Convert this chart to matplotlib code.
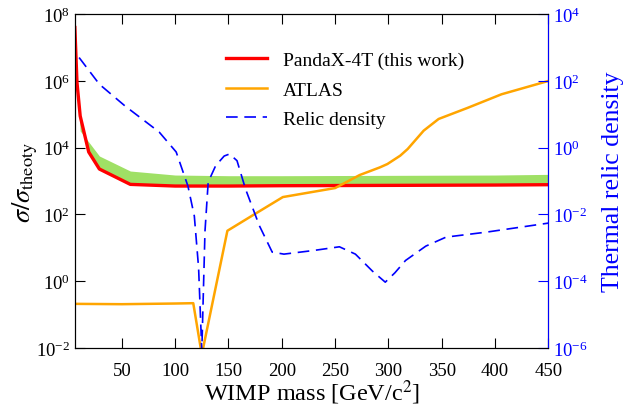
import numpy as np
import matplotlib
matplotlib.use("Agg")
import matplotlib.pyplot as plt
from matplotlib.ticker import LogLocator, NullLocator

plt.rcParams['font.family'] = ['Liberation Serif', 'DejaVu Serif']
plt.rcParams['mathtext.fontset'] = 'stix'

# PandaX-4T limit (red) and its band upper edge (green)
px_mass = [6, 8, 11, 19, 29, 58, 100, 150, 200, 300, 400, 450]
px_lim = [10**7.6, 10**5.95, 10**4.95, 10**3.87, 10**3.36, 10**2.9, 10**2.85,
          10**2.85, 10**2.86, 10**2.87, 10**2.88, 10**2.89]
band_up = [10**7.6, 10**6.1, 10**4.5, 10**4.17, 10**3.75, 10**3.3, 10**3.18,
           10**3.16, 10**3.16, 10**3.17, 10**3.18, 10**3.2]

# ATLAS (orange)
atlas_mass = [6, 50, 100, 117, 125, 149, 170, 201, 250, 273, 292,
              299, 311, 318, 333, 347, 374, 406, 450]
atlas = [10**-0.68, 10**-0.69, 10**-0.67, 10**-0.66, 10**-2.2,
         10**1.51, 10**1.92, 10**2.52, 10**2.79, 10**3.18, 10**3.41,
         10**3.51, 10**3.76, 10**3.96, 10**4.51, 10**4.86, 10**5.19, 10**5.6,
         10**6.0]

# relic density (blue, right axis)
relic_mass = [10, 29, 53, 85, 101, 112, 118, 122, 125, 128, 131, 138, 146,
              151, 158, 166, 179, 191, 202, 230, 254, 269, 285, 297, 306,
              316, 335, 354, 392, 450]
relic = [10**2.7, 10**1.9, 10**1.25, 10**0.47, 10**-0.13, 10**-1.15,
         10**-2.05, 10**-3.6, 10**-6.1, 10**-2.5, 10**-1.03, 10**-0.54,
         10**-0.25, 10**-0.19, 10**-0.39, 10**-1.24, 10**-2.34, 10**-3.13,
         10**-3.19, 10**-3.08, 10**-2.97, 10**-3.19, 10**-3.7, 10**-4.03,
         10**-3.75, 10**-3.38, 10**-2.95, 10**-2.68, 10**-2.53, 10**-2.26]

fig = plt.figure(figsize=(6.29, 4.10), dpi=100)
ax = fig.add_axes([0.119, 0.149, 0.753, 0.814])

ax.fill_between(px_mass, px_lim, band_up, color='#9fe065', lw=0)
ax.plot(px_mass, px_lim, color='#ff0000', lw=2.4, label='PandaX-4T (this work)')
ax.plot(atlas_mass, atlas, color='#ffa500', lw=1.8, label='ATLAS')
ax.plot([], [], color='#0000ff', lw=1.2, ls=(0, (7, 4)), label='Relic density')

ax.set_yscale('log')
ax.set_xlim(6, 450)
ax.set_ylim(1e-2, 1e8)
ax.set_xticks([50, 100, 150, 200, 250, 300, 350, 400, 450])
ax.yaxis.set_major_locator(LogLocator(base=100))
ax.yaxis.set_minor_locator(NullLocator())
ax.tick_params(direction='in', length=7, labelsize=13.5, top=True)
ax.tick_params(axis='x', pad=10)
ax.set_xlabel('WIMP mass [GeV/c$^2$]', fontsize=17.5, labelpad=-1)
ax.set_ylabel(r'$\sigma/\sigma_{\rm theoty}$', fontsize=19)
ax.yaxis.set_label_coords(-0.074, 0.5)
ax.xaxis.offsetText.set_visible(False)

ax2 = ax.twinx()
ax2.plot(relic_mass, relic, color='#0000ff', lw=1.2, ls=(0, (7, 4)))
ax2.set_yscale('log')
ax2.set_ylim(1e-6, 1e4)
ax2.yaxis.set_major_locator(LogLocator(base=100))
ax2.yaxis.set_minor_locator(NullLocator())
ax2.tick_params(direction='in', length=7, labelsize=13.5, colors='#0000ff')
ax2.spines['right'].set_color('#0000ff')
ax2.set_ylabel('Thermal relic density', fontsize=18.5, color='#0000ff')
ax2.yaxis.set_label_coords(1.112, 0.5)
ax2.xaxis.offsetText.set_visible(False)
ax2.xaxis.label.set_visible(False)

ax.legend(loc='upper left', bbox_to_anchor=(0.283, 0.94), frameon=False,
          fontsize=14, handlelength=2.1, labelspacing=0.6)

fig.savefig('out.png', dpi=100)
